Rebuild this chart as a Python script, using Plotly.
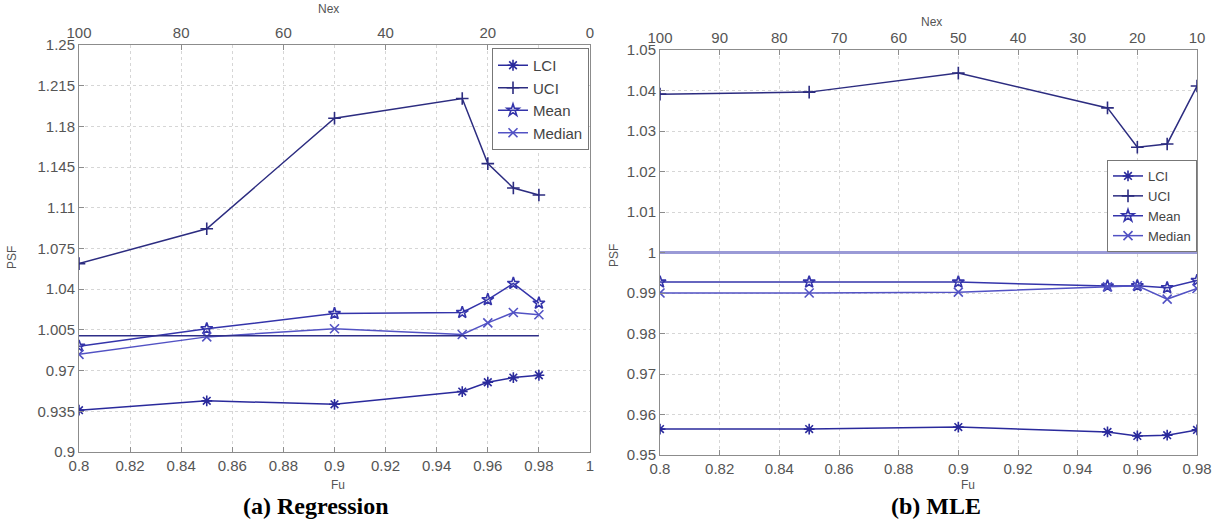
import plotly.graph_objects as go

W, H = 1213, 520

# ---------------- data ----------------
FU = [0.8, 0.85, 0.9, 0.95, 0.96, 0.97, 0.98]

# (a) Regression
LCI_A = [0.936, 0.944, 0.941, 0.952, 0.960, 0.964, 0.966]
UCI_A = [1.062, 1.092, 1.187, 1.204, 1.148, 1.127, 1.121]
MEAN_A = [0.991, 1.006, 1.019, 1.020, 1.031, 1.045, 1.028]
MEDIAN_A = [0.984, 0.999, 1.006, 1.001, 1.011, 1.020, 1.018]
REF_X_A = [0.8, 0.98]
REF_Y_A = [1.0, 1.0]

# (b) MLE
LCI_B = [0.9564, 0.9564, 0.9569, 0.9557, 0.9547, 0.9549, 0.9562]
UCI_B = [1.0391, 1.0396, 1.0443, 1.0357, 1.0260, 1.0268, 1.0411]
MEAN_B = [0.9927, 0.9927, 0.9927, 0.9917, 0.9918, 0.9913, 0.9931]
MEDIAN_B = [0.9900, 0.9900, 0.9902, 0.9915, 0.9918, 0.9885, 0.9911]
REF_X_B = [0.8, 0.98]
REF_Y_B = [1.0, 1.0]

# tick labels
XTICKS_A = ["0.8", "0.82", "0.84", "0.86", "0.88", "0.9", "0.92", "0.94", "0.96", "0.98", "1"]
YTICKS_A = ["0.9", "0.935", "0.97", "1.005", "1.04", "1.075", "1.11", "1.145", "1.18", "1.215", "1.25"]
NEX_A = [100, 80, 60, 40, 20, 0]
XTICKS_B = ["0.8", "0.82", "0.84", "0.86", "0.88", "0.9", "0.92", "0.94", "0.96", "0.98"]
YTICKS_B = ["0.95", "0.96", "0.97", "0.98", "0.99", "1", "1.01", "1.02", "1.03", "1.04", "1.05"]
NEX_B = [100, 90, 80, 70, 60, 50, 40, 30, 20, 10]
NEX_TOTAL = 500  # Nex = 500 * (1 - Fu)

SERIES = ["LCI", "UCI", "Mean", "Median"]


def px(x):
    return x / W


def py(y):
    return 1 - y / H


COL = {"LCI": "#2a2a9c", "UCI": "#2c2c80", "Mean": "#3434aa", "Median": "#5252c4"}
SYM = {"LCI": "asterisk-open", "UCI": "cross-thin-open", "Mean": "star-open", "Median": "x-thin-open"}

fig = go.Figure()

for name, ys in zip(SERIES, [LCI_A, UCI_A, MEAN_A, MEDIAN_A]):
    fig.add_trace(go.Scatter(
        x=FU, y=ys, name=name, mode="lines+markers", xaxis="x", yaxis="y",
        line=dict(color=COL[name], width=1.5),
        marker=dict(symbol=SYM[name], size=9, color=COL[name], line=dict(color=COL[name], width=1.6)),
        legend="legend",
    ))
fig.add_trace(go.Scatter(x=REF_X_A, y=REF_Y_A, mode="lines", showlegend=False, xaxis="x", yaxis="y",
                         line=dict(color="#2e2e88", width=1.5)))
# invisible carrier so the top (Nex) axis is drawn
fig.add_trace(go.Scatter(x=FU, y=LCI_A, mode="none", showlegend=False, hoverinfo="skip",
                         xaxis="x3", yaxis="y"))

for name, ys in zip(SERIES, [LCI_B, UCI_B, MEAN_B, MEDIAN_B]):
    fig.add_trace(go.Scatter(
        x=FU, y=ys, name=name, mode="lines+markers", xaxis="x2", yaxis="y2",
        line=dict(color=COL[name], width=1.5),
        marker=dict(symbol=SYM[name], size=9, color=COL[name], line=dict(color=COL[name], width=1.6)),
        legend="legend2",
    ))
fig.add_trace(go.Scatter(x=REF_X_B, y=REF_Y_B, mode="lines", showlegend=False, xaxis="x2", yaxis="y2",
                         line=dict(color="#9a9ad6", width=3)))
fig.add_trace(go.Scatter(x=FU, y=LCI_B, mode="none", showlegend=False, hoverinfo="skip",
                         xaxis="x4", yaxis="y2"))

tickfont = dict(family="Liberation Sans, Arial, sans-serif", size=15, color="#555555")
common = dict(showline=True, linecolor="#8c8c8c", linewidth=1, showgrid=True, gridcolor="#d6d6d6",
              griddash="dot", gridwidth=1, ticks="inside", ticklen=5, tickcolor="#8c8c8c",
              tickfont=tickfont, zeroline=False, automargin=False)
top = dict(showline=True, linecolor="#8c8c8c", ticks="inside", ticklen=5, tickcolor="#8c8c8c",
           tickfont=tickfont, showgrid=False, zeroline=False, automargin=False)

dom_a = [px(79), px(590)]
dom_b = [px(660), px(1197)]
ydom_a = [py(452), py(45)]
ydom_b = [py(455), py(50)]

fig.update_layout(
    width=W, height=H, margin=dict(l=0, r=0, t=0, b=0, autoexpand=False),
    paper_bgcolor="white", plot_bgcolor="white",
    xaxis=dict(domain=dom_a, anchor="y", range=[0.8, 1.0], mirror=True,
               tickvals=[float(t) for t in XTICKS_A], ticktext=XTICKS_A, **common),
    yaxis=dict(domain=ydom_a, anchor="x", range=[0.9, 1.25], mirror=True,
               tickvals=[float(t) for t in YTICKS_A], ticktext=YTICKS_A, **common),
    xaxis3=dict(overlaying="x", side="top", anchor="y", range=[0.8, 1.0],
                tickvals=[1 - n / NEX_TOTAL for n in NEX_A], ticktext=[str(n) for n in NEX_A], **top),
    xaxis2=dict(domain=dom_b, anchor="y2", range=[0.8, 0.98], mirror=True,
                tickvals=[float(t) for t in XTICKS_B], ticktext=XTICKS_B, **common),
    yaxis2=dict(domain=ydom_b, anchor="x2", range=[0.95, 1.05], mirror=True,
                tickvals=[float(t) for t in YTICKS_B], ticktext=YTICKS_B, **common),
    xaxis4=dict(overlaying="x2", side="top", anchor="y2", range=[0.8, 0.98],
                tickvals=[1 - n / NEX_TOTAL for n in NEX_B], ticktext=[str(n) for n in NEX_B], **top),
    legend=dict(x=px(492), y=py(48), xanchor="left", yanchor="top", bgcolor="white",
                bordercolor="#777777", borderwidth=1, itemwidth=30, tracegroupgap=0,
                font=dict(family="Liberation Sans, Arial, sans-serif", size=15, color="#444444")),
    legend2=dict(x=px(1107), y=py(160), xanchor="left", yanchor="top", bgcolor="white",
                 bordercolor="#777777", borderwidth=1, itemwidth=30, tracegroupgap=0,
                 font=dict(family="Liberation Sans, Arial, sans-serif", size=13, color="#444444")),
    showlegend=True,
)

lab = dict(family="Liberation Sans, Arial, sans-serif", size=12, color="#555555")
cap = dict(family="Liberation Serif, Times New Roman, serif", size=24, color="#000000")
ann = [
    dict(text="PSF", x=px(12), y=py(258), textangle=-90, font=lab),
    dict(text="Fu", x=px(338), y=py(485), font=lab),
    dict(text="Nex", x=px(328), y=py(9), font=lab),
    dict(text="PSF", x=px(614), y=py(256), textangle=-90, font=lab),
    dict(text="Fu", x=px(968), y=py(485), font=lab),
    dict(text="Nex", x=px(932), y=py(22), font=lab),
    dict(text="<b>(a) Regression</b>", x=px(316), y=py(506), font=cap),
    dict(text="<b>(b) MLE</b>", x=px(936), y=py(506), font=cap),
]
for a in ann:
    a.update(xref="paper", yref="paper", showarrow=False, xanchor="center", yanchor="middle")
fig.update_layout(annotations=ann)

fig.write_html("out.html")
